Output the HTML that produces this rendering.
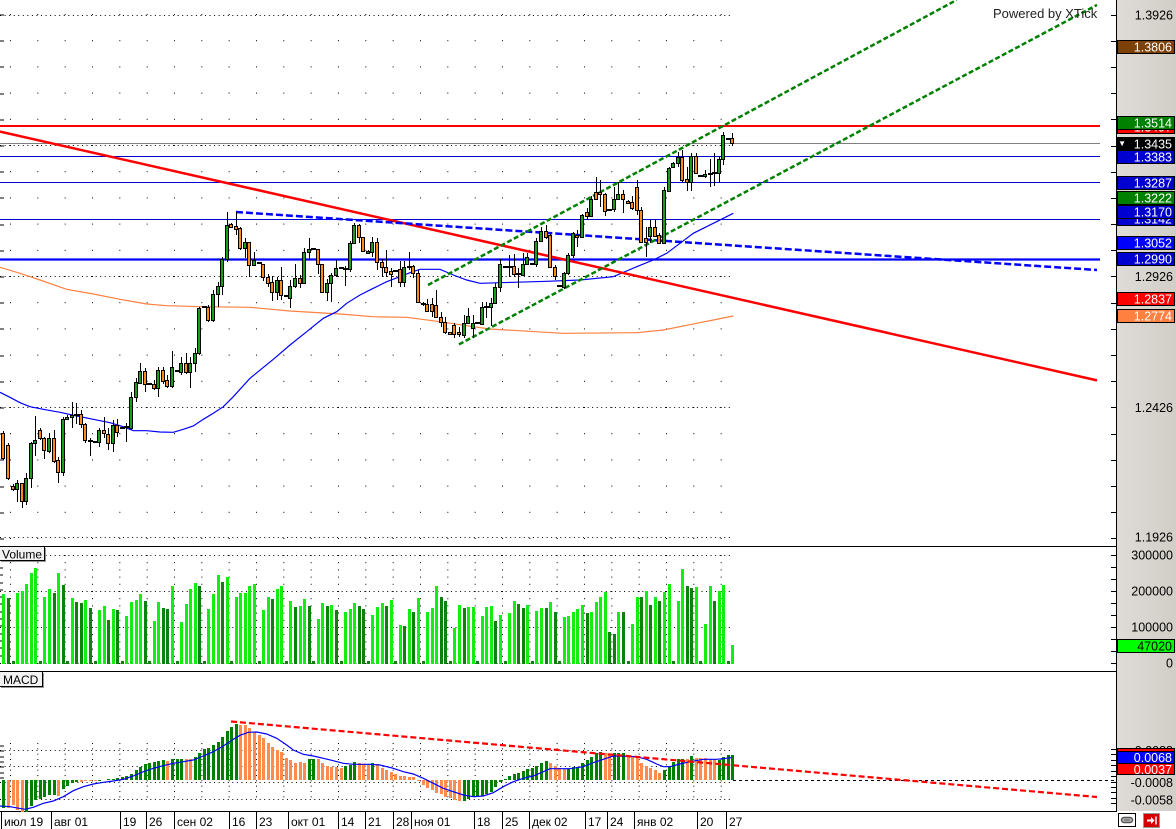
<!DOCTYPE html>
<html><head><meta charset="utf-8"><style>
html,body{margin:0;padding:0;background:#fff;width:1176px;height:829px;overflow:hidden}
svg{display:block}
text{font-family:"Liberation Sans",Arial,sans-serif}
</style></head><body>
<svg width="1176" height="829" viewBox="0 0 1176 829" xmlns="http://www.w3.org/2000/svg">
<defs>
<pattern id="gm" x="10" y="14" width="27.333" height="26.2" patternUnits="userSpaceOnUse"><rect width="1" height="1" fill="#000"/></pattern>
<pattern id="gv" x="10" y="555" width="27.333" height="7.2" patternUnits="userSpaceOnUse"><rect width="1" height="1" fill="#000"/></pattern>
<pattern id="gc" x="10" y="743" width="27.333" height="5.333" patternUnits="userSpaceOnUse"><rect width="1" height="1" fill="#000"/></pattern>
<linearGradient id="ax" x1="0" x2="1" y1="0" y2="0"><stop offset="0" stop-color="#dfdcd7"/><stop offset="1" stop-color="#d1cdc7"/></linearGradient>
</defs>
<rect width="1176" height="829" fill="#fff"/>

<!-- GRID main -->
<rect x="10" y="14" width="722" height="527" fill="url(#gm)"/>
<path d="M0 15.5H733M0 145.5H733M0 276.5H733M0 407.5H733M0 537.5H733" stroke="#000" stroke-dasharray="1 3.555" fill="none"/>
<path d="M0 15h4M0 41h4M0 67h4M0 94h4M0 120h4M0 146h4M0 172h4M0 198h4M0 225h4M0 251h4M0 277h4M0 303h4M0 329h4M0 356h4M0 382h4M0 408h4M0 434h4M0 460h4M0 487h4M0 513h4M0 539h4" stroke="#000" fill="none"/>

<!-- MAs -->
<polyline fill="none" stroke="#ff8040" stroke-width="1.2" points="0,267.3 20,273.3 40,280 66.7,289.3 93.3,294 120,299.3 146.7,304 166.7,305.7 200,306.7 250,307.3 290,311 340,314 373.3,316.7 406.7,317.3 440,321.7 473.3,326.7 490,329 506.7,330 563.3,333.3 636.7,332.7 663.3,330 696.7,323.3 713.3,320 733.3,316"/>
<polyline fill="none" stroke="#0000ff" stroke-width="1.2" points="0,392.3 10,397.3 20,402.7 30,406.7 43.3,409.3 60,412.3 76.7,416 93.3,419.3 110,422.7 123.3,426.7 133.3,430.7 146.7,430.7 160,432 173.3,432.3 183.3,429.3 193.3,426 203.3,419.3 213.3,413.3 223.3,406.7 233.3,396.7 250,378.3 273.3,359.3 290,345 306.7,331.7 323.3,318.3 336.7,311.7 346.7,303.3 360,295 373.3,288.3 386.7,281.7 400,276.7 410,272.7 420,269.3 440,269.3 453.3,275 466.7,280 480,283.3 513.3,282.3 546.7,281.3 580,280 613.3,276.7 636.7,266.7 653.3,260 666.7,253.3 680,243.3 693.3,233.3 713.3,223.3 733.3,213.3"/>

<!-- horizontal lines -->
<path d="M0 156.5H1100M0 182.5H1100M0 219.5H1100" stroke="#0000d0" fill="none"/>
<path d="M0 143.5H1100" stroke="#808080" fill="none"/>
<path d="M0 259.5H1100" stroke="#0000ff" stroke-width="2.2" fill="none"/>
<path d="M0 126H1100" stroke="#ff0000" stroke-width="2" fill="none"/>

<!-- trend lines -->
<line x1="0" y1="131.6" x2="1097" y2="380.4" stroke="#ff0000" stroke-width="2.5"/>
<line x1="236" y1="212" x2="1097" y2="270" stroke="#0000ff" stroke-width="2.5" stroke-dasharray="7 3"/>
<line x1="428" y1="285" x2="956.6" y2="0" stroke="#008000" stroke-width="2.5" stroke-dasharray="5 2.5"/>
<line x1="459" y1="344.4" x2="1097" y2="4.9" stroke="#008000" stroke-width="2.5" stroke-dasharray="5 2.5"/>

<!-- candles -->
<path fill="none" stroke="#000" d="M3.5 431V460M8.5 443V480M13.5 484V491M17.5 480V502M22.5 483V508M26.5 473V505M31.5 442V488M35.5 416V456M40.5 428V440M44.5 437V459M49.5 433V453M54.5 430V463M58.5 457V483M63.5 417V476M67.5 415V420M72.5 402V428M76.5 403V424M81.5 410V428M85.5 423V443M90.5 438V456M95.5 441V443M99.5 428V447M104.5 417V438M108.5 428V450M113.5 420V452M117.5 419V437M122.5 427V429M126.5 423V442M131.5 392V430M136.5 378V402M140.5 363V384M145.5 368V392M149.5 383V385M154.5 380V390M158.5 367V397M163.5 367V384M167.5 375V388M172.5 351V388M177.5 370V372M181.5 357V375M186.5 353V374M190.5 357V388M195.5 348V372M199.5 307V355M204.5 306V308M208.5 305V322M213.5 290V322M218.5 282V307M222.5 257V295M227.5 212V262M231.5 223V228M236.5 212V235M240.5 227V250M245.5 238V258M249.5 242V277M254.5 252V265M259.5 262V264M263.5 264V281M268.5 274V287M272.5 276V301M277.5 277V300M281.5 267V300M286.5 295V297M290.5 280V308M295.5 264V288M300.5 275V288M304.5 248V284M309.5 238V260M313.5 248V250M318.5 249V274M322.5 264V293M327.5 279V301M331.5 273V302M336.5 260V277M341.5 267V269M345.5 266V286M350.5 241V272M354.5 223V243M359.5 224V243M363.5 237V252M368.5 250V254M372.5 237V257M377.5 238V270M382.5 259V277M386.5 250V277M391.5 268V287M395.5 270V272M400.5 261V287M404.5 261V287M409.5 252V270M413.5 265V278M418.5 270V303M423.5 302V306M427.5 299V312M432.5 298V317M436.5 290V318M441.5 312V327M445.5 317V334M450.5 332V334M454.5 323V338M459.5 327V337M464.5 315V338M468.5 308V323M473.5 315V338M477.5 322V324M482.5 302V324M486.5 302V318M491.5 298V326M495.5 283V304M500.5 259V292M505.5 266V268M509.5 255V277M514.5 254V277M518.5 268V288M523.5 253V275M527.5 253V265M532.5 263V265M536.5 238V267M541.5 227V242M546.5 225V239M550.5 234V267M555.5 265V280M559.5 285V287M564.5 272V289M568.5 253V275M573.5 232V258M577.5 230V247M582.5 214V238M587.5 208V220M591.5 196V217M596.5 177V200M600.5 180V207M605.5 193V216M609.5 209V211M614.5 187V212M618.5 182V200M623.5 190V213M628.5 200V204M632.5 196V210M637.5 180V215M641.5 207V243M646.5 227V257M650.5 220V243M655.5 220V237M659.5 233V243M664.5 187V243M669.5 167V192M673.5 162V168M678.5 152V167M682.5 150V182M687.5 167V191M691.5 153V191M696.5 153V173M700.5 175V177M705.5 170V178M710.5 159V187M714.5 153V186M719.5 157V183M723.5 132V165M728.5 138V140M732.5 133V146"/>
<path fill="#1c9c1c" stroke="#000" d="M15.5 483.5h3V489.5h-3zM24.5 478.5h3V501.5h-3zM29.5 443.5h3V478.5h-3zM33.5 440.5h3V443.5h-3zM47.5 438.5h3V451.5h-3zM61.5 419.5h3V472.5h-3zM65.5 417.5h3V419.5h-3zM70.5 415.5h3V417.5h-3zM97.5 430.5h3V442.5h-3zM111.5 425.5h3V443.5h-3zM129.5 397.5h3V428.5h-3zM134.5 382.5h3V397.5h-3zM138.5 371.5h3V383.5h-3zM156.5 370.5h3V388.5h-3zM170.5 367.5h3V386.5h-3zM179.5 363.5h3V372.5h-3zM188.5 363.5h3V372.5h-3zM193.5 353.5h3V363.5h-3zM197.5 308.5h3V353.5h-3zM211.5 294.5h3V320.5h-3zM216.5 286.5h3V294.5h-3zM220.5 259.5h3V286.5h-3zM225.5 225.5h3V259.5h-3zM243.5 242.5h3V248.5h-3zM252.5 260.5h3V265.5h-3zM275.5 280.5h3V292.5h-3zM288.5 286.5h3V298.5h-3zM293.5 278.5h3V286.5h-3zM302.5 252.5h3V283.5h-3zM307.5 249.5h3V252.5h-3zM325.5 283.5h3V292.5h-3zM329.5 275.5h3V283.5h-3zM334.5 268.5h3V275.5h-3zM348.5 243.5h3V269.5h-3zM352.5 225.5h3V243.5h-3zM366.5 251.5h3V253.5h-3zM370.5 242.5h3V252.5h-3zM402.5 267.5h3V282.5h-3zM462.5 323.5h3V335.5h-3zM466.5 316.5h3V323.5h-3zM471.5 323.5h3V328.5h-3zM480.5 307.5h3V324.5h-3zM489.5 303.5h3V307.5h-3zM493.5 287.5h3V303.5h-3zM498.5 264.5h3V287.5h-3zM521.5 264.5h3V275.5h-3zM525.5 257.5h3V264.5h-3zM534.5 241.5h3V264.5h-3zM539.5 231.5h3V241.5h-3zM562.5 273.5h3V287.5h-3zM566.5 255.5h3V273.5h-3zM571.5 233.5h3V255.5h-3zM580.5 215.5h3V237.5h-3zM589.5 199.5h3V216.5h-3zM612.5 199.5h3V209.5h-3zM616.5 194.5h3V199.5h-3zM648.5 227.5h3V236.5h-3zM662.5 190.5h3V243.5h-3zM667.5 168.5h3V191.5h-3zM671.5 163.5h3V167.5h-3zM676.5 157.5h3V163.5h-3zM689.5 156.5h3V182.5h-3zM703.5 174.5h3V176.5h-3zM717.5 159.5h3V173.5h-3zM721.5 135.5h3V159.5h-3z"/>
<path fill="#ff8a1c" stroke="#000" d="M1.5 433.5h3V458.5h-3zM6.5 445.5h3V478.5h-3zM11.5 486.5h3V489.5h-3zM20.5 483.5h3V501.5h-3zM38.5 430.5h3V438.5h-3zM42.5 438.5h3V450.5h-3zM52.5 438.5h3V461.5h-3zM56.5 460.5h3V472.5h-3zM79.5 414.5h3V424.5h-3zM83.5 424.5h3V440.5h-3zM102.5 430.5h3V433.5h-3zM106.5 434.5h3V443.5h-3zM115.5 425.5h3V432.5h-3zM143.5 371.5h3V384.5h-3zM152.5 384.5h3V388.5h-3zM161.5 370.5h3V381.5h-3zM165.5 380.5h3V386.5h-3zM184.5 363.5h3V372.5h-3zM206.5 307.5h3V320.5h-3zM229.5 224.5h3V227.5h-3zM234.5 226.5h3V229.5h-3zM238.5 228.5h3V248.5h-3zM247.5 242.5h3V265.5h-3zM261.5 264.5h3V277.5h-3zM266.5 277.5h3V283.5h-3zM270.5 282.5h3V292.5h-3zM279.5 280.5h3V295.5h-3zM298.5 278.5h3V283.5h-3zM316.5 249.5h3V264.5h-3zM320.5 264.5h3V292.5h-3zM357.5 225.5h3V237.5h-3zM361.5 237.5h3V251.5h-3zM375.5 242.5h3V262.5h-3zM380.5 262.5h3V267.5h-3zM384.5 267.5h3V272.5h-3zM389.5 271.5h3V274.5h-3zM398.5 269.5h3V282.5h-3zM411.5 266.5h3V273.5h-3zM416.5 273.5h3V302.5h-3zM425.5 304.5h3V311.5h-3zM430.5 304.5h3V311.5h-3zM434.5 305.5h3V317.5h-3zM439.5 317.5h3V322.5h-3zM443.5 322.5h3V332.5h-3zM448.5 332.5h3V334.5h-3zM452.5 325.5h3V334.5h-3zM457.5 332.5h3V334.5h-3zM512.5 266.5h3V274.5h-3zM544.5 231.5h3V237.5h-3zM548.5 235.5h3V267.5h-3zM553.5 267.5h3V276.5h-3zM575.5 235.5h3V237.5h-3zM585.5 212.5h3V216.5h-3zM594.5 192.5h3V199.5h-3zM598.5 192.5h3V194.5h-3zM603.5 194.5h3V211.5h-3zM621.5 194.5h3V199.5h-3zM626.5 201.5h3V203.5h-3zM630.5 202.5h3V208.5h-3zM635.5 187.5h3V210.5h-3zM639.5 210.5h3V242.5h-3zM644.5 238.5h3V242.5h-3zM653.5 227.5h3V236.5h-3zM657.5 235.5h3V243.5h-3zM680.5 157.5h3V180.5h-3zM685.5 179.5h3V182.5h-3zM694.5 156.5h3V173.5h-3zM730.5 138.5h3V143.5h-3z"/>
<path fill="none" stroke="#000" stroke-width="2" d="M74 415h5M88 441h5M93 442h5M120 428h5M124 427h5M147 384h5M175 371h5M202 307h5M257 263h5M284 296h5M311 249h5M339 268h5M343 269h5M393 271h5M407 267h5M421 304h5M475 323h5M484 307h5M503 267h5M507 267h5M516 274h5M530 264h5M557 286h5M607 210h5M698 176h5M708 174h5M712 173h5M726 139h5"/>

<text x="993" y="18" font-size="13" fill="#222">Powered by XTick</text>

<!-- right ticks main -->
<path d="M1111 15.5h6M1111 41.5h6M1111 67.5h6M1111 93.5h6M1111 119.5h6M1111 146.5h6M1111 172.5h6M1111 198.5h6M1111 224.5h6M1111 250.5h6M1111 276.5h6M1111 303.5h6M1111 329.5h6M1111 355.5h6M1111 381.5h6M1111 407.5h6M1111 434.5h6M1111 460.5h6M1111 486.5h6M1111 512.5h6M1111 538.5h6" stroke="#000" fill="none"/>

<!-- panel separators -->
<path d="M0 546.5H1117M0 671.5H1117M0 811.5H1117" stroke="#000" fill="none"/>

<!-- VOLUME panel -->
<rect x="10" y="555" width="722" height="109" fill="url(#gv)"/>
<path d="M0 555.5H733M0 591.5H733M0 627.5H733M0 663.5H733" stroke="#000" stroke-dasharray="1 3.555" fill="none"/>
<path d="M0 568h3M0 575h3M0 583h3M0 590h3M0 597h3M0 604h3M0 612h3M0 619h3M0 626h3M0 634h3M0 641h3M0 648h3M0 656h3" stroke="#000" fill="none"/>
<path fill="#12ee12" d="M2 594h3V664h-3zM16 593h3V664h-3zM21 591h3V664h-3zM25 584h3V664h-3zM30 573h3V664h-3zM34 568h3V664h-3zM43 597h3V664h-3zM48 589h3V664h-3zM57 573h3V664h-3zM71 598h3V664h-3zM84 600h3V664h-3zM98 610h3V664h-3zM103 606h3V664h-3zM112 609h3V664h-3zM125 616h3V664h-3zM130 602h3V664h-3zM135 600h3V664h-3zM139 594h3V664h-3zM153 621h3V664h-3zM157 602h3V664h-3zM171 586h3V664h-3zM180 622h3V664h-3zM185 604h3V664h-3zM189 589h3V664h-3zM194 583h3V664h-3zM207 609h3V664h-3zM212 594h3V664h-3zM217 575h3V664h-3zM226 577h3V664h-3zM235 597h3V664h-3zM239 593h3V664h-3zM244 593h3V664h-3zM248 586h3V664h-3zM253 584h3V664h-3zM262 610h3V664h-3zM267 597h3V664h-3zM276 589h3V664h-3zM280 586h3V664h-3zM289 601h3V664h-3zM299 606h3V664h-3zM303 599h3V664h-3zM317 619h3V664h-3zM321 603h3V664h-3zM330 605h3V664h-3zM344 612h3V664h-3zM349 609h3V664h-3zM353 603h3V664h-3zM371 615h3V664h-3zM376 607h3V664h-3zM381 603h3V664h-3zM390 600h3V664h-3zM399 625h3V664h-3zM408 609h3V664h-3zM417 598h3V664h-3zM426 612h3V664h-3zM431 608h3V664h-3zM435 586h3V664h-3zM453 628h3V664h-3zM458 605h3V664h-3zM467 607h3V664h-3zM472 607h3V664h-3zM481 616h3V664h-3zM485 607h3V664h-3zM490 606h3V664h-3zM499 615h3V664h-3zM508 613h3V664h-3zM513 601h3V664h-3zM526 605h3V664h-3zM535 611h3V664h-3zM540 608h3V664h-3zM549 602h3V664h-3zM563 617h3V664h-3zM567 616h3V664h-3zM572 612h3V664h-3zM576 609h3V664h-3zM581 605h3V664h-3zM590 612h3V664h-3zM595 602h3V664h-3zM599 597h3V664h-3zM604 592h3V664h-3zM617 612h3V664h-3zM631 624h3V664h-3zM636 597h3V664h-3zM645 591h3V664h-3zM654 597h3V664h-3zM663 592h3V664h-3zM668 584h3V664h-3zM677 601h3V664h-3zM681 569h3V664h-3zM695 587h3V664h-3zM704 624h3V664h-3zM709 586h3V664h-3zM718 591h3V664h-3zM722 585h3V664h-3zM731 645h3V664h-3z"/>
<path fill="#0e800e" d="M7 598h3V664h-3zM53 593h3V664h-3zM62 585h3V664h-3zM75 602h3V664h-3zM80 603h3V664h-3zM89 608h3V664h-3zM107 620h3V664h-3zM116 610h3V664h-3zM144 601h3V664h-3zM162 608h3V664h-3zM166 609h3V664h-3zM198 586h3V664h-3zM221 582h3V664h-3zM271 599h3V664h-3zM294 607h3V664h-3zM308 606h3V664h-3zM326 606h3V664h-3zM335 610h3V664h-3zM358 606h3V664h-3zM362 609h3V664h-3zM385 606h3V664h-3zM403 626h3V664h-3zM412 612h3V664h-3zM440 597h3V664h-3zM444 601h3V664h-3zM463 608h3V664h-3zM494 621h3V664h-3zM517 604h3V664h-3zM522 608h3V664h-3zM545 608h3V664h-3zM554 612h3V664h-3zM586 613h3V664h-3zM608 632h3V664h-3zM613 634h3V664h-3zM622 612h3V664h-3zM640 597h3V664h-3zM649 605h3V664h-3zM658 601h3V664h-3zM686 586h3V664h-3zM690 588h3V664h-3zM713 601h3V664h-3zM12 661h3V664h-3zM39 661h3V664h-3zM66 661h3V664h-3zM94 661h3V664h-3zM121 661h3V664h-3zM148 661h3V664h-3zM176 661h3V664h-3zM203 661h3V664h-3zM230 661h3V664h-3zM258 661h3V664h-3zM285 661h3V664h-3zM312 661h3V664h-3zM340 661h3V664h-3zM367 661h3V664h-3zM394 661h3V664h-3zM422 661h3V664h-3zM449 661h3V664h-3zM476 661h3V664h-3zM504 661h3V664h-3zM531 661h3V664h-3zM558 661h3V664h-3zM627 661h3V664h-3zM672 661h3V664h-3zM699 661h3V664h-3zM727 661h3V664h-3z"/>
<rect x="0" y="547" width="44" height="13" fill="#f2f2f2"/>
<path d="M44.5 547V561M0 560.5H45" stroke="#000" fill="none"/>
<path d="M45.5 548V562M1 561.5H46" stroke="#999" fill="none"/>
<text x="2" y="558.5" font-size="12" fill="#000">Volume</text>
<path d="M1111 555.5h6M1111 567.5h6M1111 579.5h6M1111 591.5h6M1111 603.5h6M1111 615.5h6M1111 627.5h6M1111 639.5h6M1111 651.5h6M1111 663.5h6" stroke="#000" fill="none"/>

<!-- MACD panel -->
<rect x="10" y="743" width="722" height="58" fill="url(#gc)"/>
<path d="M0 750.5H733M0 766.5H733M0 782.5H733M0 799.5H733" stroke="#000" stroke-dasharray="1 3.555" fill="none"/>
<path d="M0 746h4M0 751h4M0 757h4M0 762h4M0 767h4M0 773h4M0 778h4" stroke="#000" fill="none"/>
<path fill="#008000" d="M2 808h3V780h-3zM25 812h3V780h-3zM30 806h3V780h-3zM34 800h3V780h-3zM39 799h3V780h-3zM43 797h3V780h-3zM48 795h3V780h-3zM53 795h3V780h-3zM62 789h3V780h-3zM66 786h3V780h-3zM71 783h3V780h-3zM75 782h3V780h-3zM98 781h3V780h-3zM107 779h3V780h-3zM112 779h3V780h-3zM116 778h3V780h-3zM121 777h3V780h-3zM125 776h3V780h-3zM130 774h3V780h-3zM135 770h3V780h-3zM139 767h3V780h-3zM144 764h3V780h-3zM148 763h3V780h-3zM153 762h3V780h-3zM157 761h3V780h-3zM162 760h3V780h-3zM171 759h3V780h-3zM176 759h3V780h-3zM180 759h3V780h-3zM194 757h3V780h-3zM198 753h3V780h-3zM203 749h3V780h-3zM207 748h3V780h-3zM212 745h3V780h-3zM217 742h3V780h-3zM221 737h3V780h-3zM226 731h3V780h-3zM230 727h3V780h-3zM235 724h3V780h-3zM308 759h3V780h-3zM312 759h3V780h-3zM344 766h3V780h-3zM349 765h3V780h-3zM353 762h3V780h-3zM371 763h3V780h-3zM463 801h3V780h-3zM467 799h3V780h-3zM472 797h3V780h-3zM476 797h3V780h-3zM481 796h3V780h-3zM485 794h3V780h-3zM490 792h3V780h-3zM494 787h3V780h-3zM499 782h3V780h-3zM504 779h3V780h-3zM508 776h3V780h-3zM513 774h3V780h-3zM517 773h3V780h-3zM522 771h3V780h-3zM526 769h3V780h-3zM531 768h3V780h-3zM535 766h3V780h-3zM540 763h3V780h-3zM545 761h3V780h-3zM567 769h3V780h-3zM572 767h3V780h-3zM576 767h3V780h-3zM581 763h3V780h-3zM586 760h3V780h-3zM590 757h3V780h-3zM595 753h3V780h-3zM599 752h3V780h-3zM613 753h3V780h-3zM617 753h3V780h-3zM622 753h3V780h-3zM663 770h3V780h-3zM668 766h3V780h-3zM672 762h3V780h-3zM677 759h3V780h-3zM681 759h3V780h-3zM690 756h3V780h-3zM718 760h3V780h-3zM722 757h3V780h-3zM727 755h3V780h-3zM731 755h3V780h-3z"/>
<path fill="#ff8c4c" d="M7 808h3V780h-3zM12 805h3V780h-3zM16 810h3V780h-3zM21 812h3V780h-3zM57 796h3V780h-3zM80 782h3V780h-3zM84 781h3V780h-3zM89 781h3V780h-3zM94 781h3V780h-3zM166 761h3V780h-3zM185 759h3V780h-3zM189 759h3V780h-3zM239 725h3V780h-3zM244 725h3V780h-3zM248 728h3V780h-3zM253 732h3V780h-3zM258 735h3V780h-3zM262 738h3V780h-3zM267 743h3V780h-3zM271 747h3V780h-3zM276 750h3V780h-3zM280 752h3V780h-3zM285 758h3V780h-3zM289 760h3V780h-3zM294 763h3V780h-3zM299 762h3V780h-3zM303 763h3V780h-3zM317 759h3V780h-3zM321 763h3V780h-3zM326 766h3V780h-3zM330 767h3V780h-3zM335 767h3V780h-3zM340 768h3V780h-3zM358 763h3V780h-3zM362 764h3V780h-3zM367 764h3V780h-3zM376 764h3V780h-3zM381 768h3V780h-3zM385 770h3V780h-3zM390 772h3V780h-3zM394 774h3V780h-3zM399 776h3V780h-3zM403 776h3V780h-3zM408 777h3V780h-3zM412 777h3V780h-3zM417 781h3V780h-3zM422 785h3V780h-3zM426 788h3V780h-3zM431 790h3V780h-3zM435 793h3V780h-3zM440 794h3V780h-3zM444 797h3V780h-3zM449 798h3V780h-3zM453 800h3V780h-3zM458 801h3V780h-3zM549 763h3V780h-3zM554 766h3V780h-3zM558 768h3V780h-3zM563 769h3V780h-3zM604 753h3V780h-3zM608 755h3V780h-3zM627 755h3V780h-3zM631 756h3V780h-3zM636 757h3V780h-3zM640 763h3V780h-3zM645 766h3V780h-3zM649 768h3V780h-3zM654 770h3V780h-3zM658 773h3V780h-3zM686 759h3V780h-3zM695 758h3V780h-3zM699 758h3V780h-3zM704 758h3V780h-3zM709 759h3V780h-3zM713 759h3V780h-3z"/>
<polyline fill="none" stroke="#0000ff" stroke-width="1.2" points="0,806 10,806.7 25,809.3 33.3,807.3 43.3,803.3 53.3,801 63.3,796.7 73.3,790.7 83.3,786.7 93.3,784 103.3,782.3 113.3,781 123.3,779.3 133.3,776 143.3,771.7 153.3,768.3 163.3,765.7 173.3,763.3 183.3,761.7 193.3,760 203.3,756 213.3,751.7 223.3,746 233.3,739.3 240,735.3 248.3,732.3 256.7,732 266.7,734 276.7,738.3 286.7,745 293.3,750 303.3,754.3 313.3,756 323.3,758.3 333.3,760.7 343.3,763.3 353.3,764.3 370,764.3 380,765 393.3,768.3 403.3,771.7 413.3,774 423.3,778.3 433.3,783.3 443.3,788.3 453.3,791.7 463.3,795 473.3,796.7 483.3,796 493.3,792.7 503.3,786.7 513.3,781.7 523.3,778.3 533.3,776 543.3,771.7 550,768.7 570,768.7 583.3,766.7 593.3,762.7 603.3,759.3 613.3,756 636.7,756.7 646.7,759.3 656.7,764 663.3,766.7 670,766.7 680,764 690,761.7 703.3,759.3 716.7,759.3 731.7,757.7"/>
<line x1="733" y1="780.5" x2="1116" y2="780.5" stroke="#000" stroke-dasharray="3 3"/>
<line x1="231" y1="721.5" x2="1097" y2="797" stroke="#ff0000" stroke-width="2.2" stroke-dasharray="6 3"/>
<rect x="0" y="672" width="42" height="14" fill="#f2f2f2"/>
<path d="M42.5 672V687M0 686.5H43" stroke="#000" fill="none"/>
<path d="M43.5 673V688M1 687.5H44" stroke="#999" fill="none"/>
<text x="3" y="684" font-size="12" fill="#000">MACD</text>
<path d="M1111 749.5h6M1111 754.5h6M1111 760.5h6M1111 765.5h6M1111 771.5h6M1111 776.5h6M1111 782.5h6M1111 787.5h6M1111 792.5h6M1111 798.5h6M1111 803.5h6" stroke="#000" fill="none"/>

<!-- RIGHT AXIS -->
<rect x="1117" y="0" width="59" height="811" fill="url(#ax)"/>
<line x1="1116.5" y1="0" x2="1116.5" y2="811" stroke="#000"/>
<g font-size="12.5" text-anchor="end">
<text x="1173" y="19.5" fill="#000">1.3926</text>
<text x="1173" y="281" fill="#000">1.2926</text>
<text x="1173" y="412" fill="#000">1.2426</text>
<text x="1173" y="541.5" fill="#000">1.1926</text>

<rect x="1117.5" y="40.5" width="57" height="13" fill="#7d4006" stroke="#000"/><text x="1172" y="51.5" fill="#fff">1.3806</text>
<rect x="1117.5" y="120.5" width="57" height="13" fill="#ff0000" stroke="#000"/><text x="1172" y="131.5" fill="#fff">1.3497</text>
<rect x="1117.5" y="116.5" width="57" height="13" fill="#008000" stroke="#000"/><text x="1172" y="127.5" fill="#fff">1.3514</text>
<rect x="1117.5" y="137.5" width="57" height="13" fill="#000" stroke="#000"/><text x="1172" y="148.5" fill="#fff">1.3435</text>
<text x="1126" y="146" font-size="8" fill="#fff">▼</text>
<rect x="1117.5" y="150.5" width="57" height="13" fill="#0000d0" stroke="#000"/><text x="1172" y="161.5" fill="#fff">1.3383</text>
<rect x="1117.5" y="176.5" width="57" height="13" fill="#0000d0" stroke="#000"/><text x="1172" y="187.5" fill="#fff">1.3287</text>
<rect x="1117.5" y="191.5" width="57" height="13" fill="#008000" stroke="#000"/><text x="1172" y="202.5" fill="#fff">1.3222</text>
<rect x="1117.5" y="212.5" width="57" height="13" fill="#0000d0" stroke="#000"/><text x="1172" y="223.5" fill="#fff">1.3142</text>
<rect x="1117.5" y="205.5" width="57" height="13" fill="#0000d0" stroke="#000"/><text x="1172" y="216.5" fill="#fff">1.3170</text>
<rect x="1117.5" y="236.5" width="57" height="13" fill="#0000ff" stroke="#000"/><text x="1172" y="247.5" fill="#fff">1.3052</text>
<rect x="1117.5" y="252.5" width="57" height="13" fill="#0000d0" stroke="#000"/><text x="1172" y="263.5" fill="#fff">1.2990</text>
<rect x="1117.5" y="292.5" width="57" height="13" fill="#ff0000" stroke="#000"/><text x="1172" y="303.5" fill="#fff">1.2837</text>
<rect x="1117.5" y="309.5" width="57" height="13" fill="#ff8040" stroke="#000"/><text x="1172" y="320.5" fill="#fff">1.2774</text>

<text x="1173" y="559.5" fill="#000">300000</text>
<text x="1173" y="595.5" fill="#000">200000</text>
<text x="1173" y="631.5" fill="#000">100000</text>
<text x="1173" y="667.5" fill="#000">0</text>
<rect x="1117.5" y="639.5" width="57" height="13" fill="#00ff00" stroke="#000"/><text x="1172" y="650.5" fill="#000">47020</text>

<text x="1173" y="755" fill="#000">0.0088</text>
<rect x="1117.5" y="748.5" width="57" height="12" fill="#ff0000" stroke="#000"/>
<rect x="1117.5" y="762.5" width="57" height="12" fill="#ff0000" stroke="#000"/><text x="1172" y="774" fill="#fff">0.0037</text>
<rect x="1117.5" y="751.5" width="57" height="12" fill="#0000ff" stroke="#000"/><text x="1172" y="762" fill="#fff">0.0068</text>
<text x="1173" y="787" fill="#000">-0.0008</text>
<text x="1173" y="804.5" fill="#000">-0.0058</text>
</g>

<!-- X AXIS -->
<path d="M1.5 812V829M51.5 812V829M120.5 812V829M146.5 812V829M174.5 812V829M229.5 812V829M256.5 812V829M288.5 812V829M338.5 812V829M365.5 812V829M393.5 812V829M411.5 812V829M474.5 812V829M502.5 812V829M529.5 812V829M585.5 812V829M607.5 812V829M634.5 812V829M697.5 812V829M726.5 812V829" stroke="#000" fill="none"/>
<g font-size="12" fill="#000">
<text x="4" y="826" font-size="12">июл 19</text>
<text x="54" y="826" font-size="12">авг 01</text>
<text x="123" y="826" font-size="12">19</text>
<text x="149" y="826" font-size="12">26</text>
<text x="177" y="826" font-size="12">сен 02</text>
<text x="232" y="826" font-size="12">16</text>
<text x="259" y="826" font-size="12">23</text>
<text x="291" y="826" font-size="12">окт 01</text>
<text x="341" y="826" font-size="12">14</text>
<text x="368" y="826" font-size="12">21</text>
<text x="396" y="826" font-size="12">28</text>
<text x="414" y="826" font-size="12">ноя 01</text>
<text x="477" y="826" font-size="12">18</text>
<text x="505" y="826" font-size="12">25</text>
<text x="532" y="826" font-size="12">дек 02</text>
<text x="588" y="826" font-size="12">17</text>
<text x="610" y="826" font-size="12">24</text>
<text x="637" y="826" font-size="12">янв 02</text>
<text x="700" y="826" font-size="12">20</text>
<text x="729" y="826" font-size="12">27</text>
</g>

<!-- bottom-right icons -->
<rect x="1118.5" y="813.5" width="17" height="13" fill="#fff" stroke="#000"/>
<rect x="1121.5" y="817.5" width="11" height="5" rx="2.5" fill="#bbb" stroke="#555" stroke-width="1.5"/>
<path d="M1124 820h6" stroke="#555"/>
<rect x="1143.5" y="813.5" width="16" height="14" fill="#d40000" stroke="#999"/>
<path d="M1147 820.5h5" stroke="#fff" stroke-width="2"/>
<path d="M1151 817l3.5 3.5-3.5 3.5z" fill="#fff"/>
<path d="M1156 816.5V824.5" stroke="#fff" stroke-width="1.5"/>
</svg>
</body></html>
